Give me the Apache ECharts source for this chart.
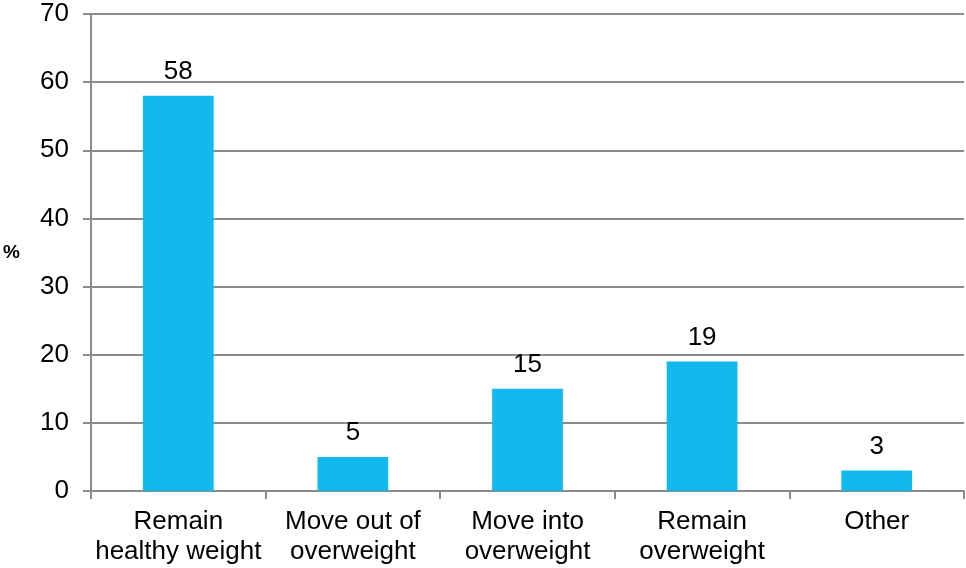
<!DOCTYPE html>
<html>
<head>
<meta charset="utf-8">
<script src="https://cdn.jsdelivr.net/npm/echarts@6/dist/echarts.min.js"></script>
<style>
  html, body { margin: 0; padding: 0; background: #fff; }
  #chart { width: 966px; height: 568px; }
</style>
</head>
<body>
<div id="chart"></div>
<script>
// Weight-status transitions, percentage of people
const categories = ['Remain\nhealthy weight', 'Move out of\noverweight', 'Move into\noverweight', 'Remain\noverweight', 'Other'];
const percentages = [58, 5, 15, 19, 3];
const yTicks = { min: 0, max: 70, interval: 10 };

const gridGrey = '#8c8c8c';
const font = 'Liberation Sans, Arial, sans-serif';

const chart = echarts.init(document.getElementById('chart'));
chart.setOption({
  animation: false,
  grid: { left: 91, right: 2, top: 14, bottom: 77, containLabel: false, outerBoundsMode: 'none' },
  xAxis: {
    type: 'category',
    data: categories,
    axisLine: { show: true, lineStyle: { color: gridGrey, width: 2 } },
    axisTick: { show: true, length: 8, alignWithLabel: false, lineStyle: { color: gridGrey, width: 2 } },
    axisLabel: { color: '#000', fontSize: 26, fontFamily: font, lineHeight: 30, margin: 16, interval: 0 }
  },
  yAxis: {
    type: 'value',
    min: yTicks.min, max: yTicks.max, interval: yTicks.interval,
    name: '%',
    nameLocation: 'middle',
    nameRotate: 0,
    nameGap: 71,
    nameTextStyle: { color: '#000', fontSize: 19, fontWeight: 'bold', fontFamily: font },
    axisLine: { show: true, lineStyle: { color: gridGrey, width: 2 } },
    axisTick: { show: true, inside: false, length: 8, lineStyle: { color: gridGrey, width: 2 } },
    axisLabel: { color: '#000', fontSize: 26, fontFamily: font, margin: 22 },
    splitLine: { show: true, lineStyle: { color: gridGrey, width: 2 } }
  },
  series: [{
    type: 'bar',
    data: percentages,
    barWidth: '40.5%',
    itemStyle: { color: '#11b9ec' },
    label: { show: true, position: 'top', distance: 11, color: '#000', fontSize: 26, fontFamily: font }
  }]
});
</script>
</body>
</html>
